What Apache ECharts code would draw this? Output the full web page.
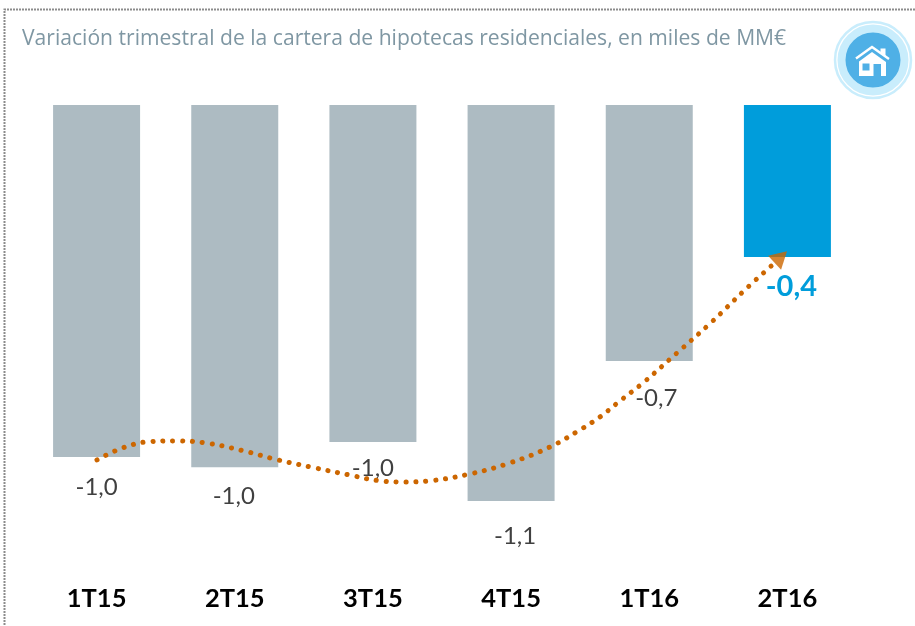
<!DOCTYPE html>
<html><head><meta charset="utf-8">
<style>html,body{margin:0;padding:0;background:#fff}#c{width:915px;height:626px}</style>
<script src="https://cdn.jsdelivr.net/npm/echarts@6/dist/echarts.min.js"></script>
</head><body><div id="c"></div>
<script>
const titleText = 'Variación trimestral de la cartera de hipotecas residenciales, en miles de MM€';
const categories = ['1T15','2T15','3T15','4T15','1T16','2T16'];
const values = [-0.926,-0.953,-0.887,-1.042,-0.674,-0.40];
const valueLabels = ['-1,0','-1,0','-1,0','-1,1','-0,7','-0,4'];
const curveX = [0.503,0.684,0.879,1.082,1.284,1.552,1.813,2.08,2.334,2.551,2.732,2.913,3.202,3.491,3.781,3.998,4.143,4.287,4.446,4.699,4.952,5.191,5.394];
const curveY = [-0.934,-0.903,-0.886,-0.884,-0.889,-0.909,-0.934,-0.955,-0.974,-0.989,-0.992,-0.989,-0.971,-0.942,-0.9,-0.855,-0.821,-0.779,-0.734,-0.653,-0.571,-0.487,-0.42];
const arrowPoint = [5.452,-0.4];

const GREY='#ADBBC2', BLUE='#009DDB', ORANGE='#CC6600', FONT='Lato, "Open Sans", sans-serif';
const labelGaps = [18,17,14,23,25,15];
const labelShift = [0,-1,0,4,7,4];
const chart = echarts.init(document.getElementById('c'));
chart.setOption({
  animation:false,
  backgroundColor:'#fff',
  title:{text:titleText,left:17,top:23,textStyle:{color:'#7F97A3',fontSize:21.1,fontWeight:'normal',fontFamily:'"Open Sans", sans-serif'}},
  grid:{left:27.5,top:105,width:829,height:418},
  xAxis:[
    {type:'category',data:categories,position:'bottom',axisLine:{show:false,onZero:false},axisTick:{show:false},
     axisLabel:{margin:63,color:'#000',fontSize:25.5,fontWeight:'bold',fontFamily:FONT}},
    {type:'value',min:0,max:6,show:false}
  ],
  yAxis:[{type:'value',min:-1.1,max:0,show:false},{type:'value',min:-1.1,max:0,show:false}],
  series:[
    {type:'bar',barWidth:87,silent:true,
     data:values.map((v,i)=>({value:v,
       itemStyle:{color:i===5?BLUE:GREY},
       label:{show:true,position:'bottom',distance:labelGaps[i],offset:[labelShift[i],0],formatter:valueLabels[i],
         color:i===5?BLUE:'#404040',fontSize:i===5?29:24,fontWeight:i===5?'bold':'normal',fontFamily:FONT}}))},
    {type:'line',xAxisIndex:1,yAxisIndex:1,smooth:0.4,symbol:'none',silent:true,z:5,
     data:curveX.map((x,i)=>[x,curveY[i]]),
     lineStyle:{color:ORANGE,width:5,type:[0.1,9.8],cap:'round'}},
    {type:'scatter',xAxisIndex:1,yAxisIndex:1,silent:true,z:6,symbol:'triangle',symbolSize:[19,17],symbolRotate:-47,
     data:[arrowPoint],itemStyle:{color:ORANGE}}
  ],
  graphic:[
    {type:'polyline',shape:{points:[[4.5,640],[4.5,9.5],[930,9.5]]},style:{stroke:'#8c8c8c',lineWidth:2,fill:null,lineDash:[2,1]},silent:true},
    {type:'circle',shape:{cx:873,cy:60,r:38},style:{fill:'#fff',stroke:'#C9EDFC',lineWidth:2.5}},
    {type:'circle',shape:{cx:873,cy:60,r:31.5},style:{fill:'#4FB0E6',stroke:'#C9EDFC',lineWidth:8}},
    {type:'polyline',shape:{points:[[856,58.5],[872,47],[889,59]]},style:{stroke:'#fff',lineWidth:2.4,fill:null}},
    {type:'polygon',shape:{points:[[880.5,48.5],[885.5,48.5],[885.5,57],[880.5,53]]},style:{fill:'#fff'}},
    {type:'polygon',shape:{points:[[859,61.5],[872,52],[886,62],[886,76],[859,76]]},style:{fill:'#fff'}},
    {type:'rect',shape:{x:862.5,y:63.5,width:7,height:7},style:{fill:'#4FB0E6'}},
    {type:'rect',shape:{x:873.5,y:64,width:7.5,height:12},style:{fill:'#4FB0E6'}}
  ]
});
</script></body></html>
